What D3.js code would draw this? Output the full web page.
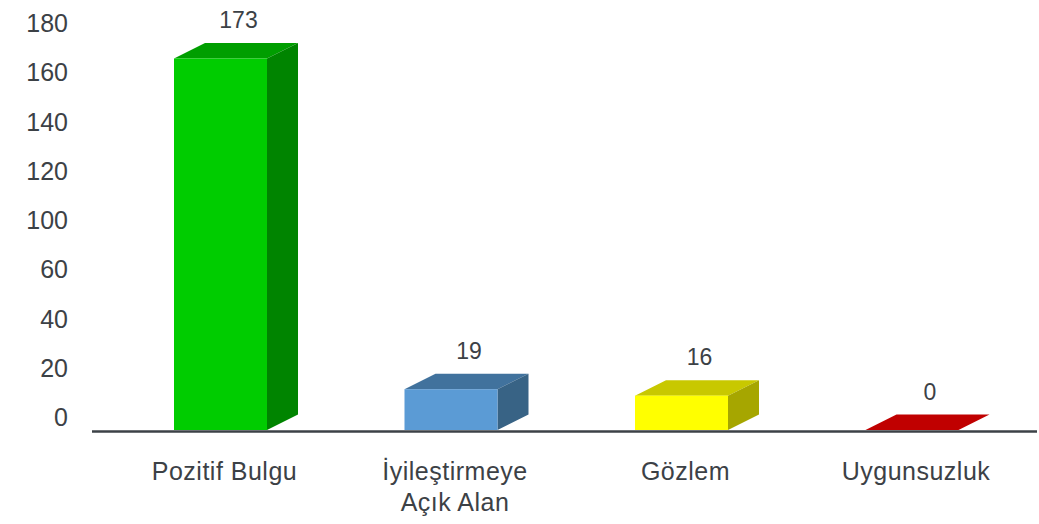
<!DOCTYPE html>
<html lang="tr">
<head>
<meta charset="UTF-8">
<title>Bulgular</title>
<script src="https://cdn.jsdelivr.net/npm/d3@7"></script>
<style>
    body { margin: 0; background: #fff; }
    svg { display: block; font-family: "Liberation Sans", Arial, sans-serif; }
    .tick-label { fill: #3c4146; font-size: 25px; }
    .cat-label { fill: #3c4146; font-size: 25px; letter-spacing: 0.5px; }
    .val-label { fill: #3c4146; font-size: 23px; }
</style>
</head>
<body>
<svg id="chart" width="1039" height="524"></svg>
<script>
// data
const categories = ["Pozitif Bulgu", "İyileştirmeye\nAçık Alan", "Gözlem", "Uygunsuzluk"];
const values = [173, 19, 16, 0];
// the original axis skips 80, labels are evenly spaced
const tickLabels = ["0", "20", "40", "60", "100", "120", "140", "160", "180"];
const frontColors = ["#00cc00", "#5b9bd5", "#ffff00", "#c00000"];
const topColors = ["#009e00", "#41729d", "#c8c800", "#c00000"];
const sideColors = ["#008400", "#386385", "#a6a600", "#9a0000"];

const svg = d3.select("#chart");
const baseY = 430;
const depthX = 31, depthY = 15.5;

const x = d3.scaleBand()
    .domain(categories)
    .range([174, 958.5])
    .paddingInner(0.5965)
    .paddingOuter(0);

const y = d3.scaleLinear()
    .domain([0, 173])
    .range([baseY, 58.5]);

const yLab = d3.scalePoint()
    .domain(tickLabels)
    .range([426, 32]);

// y labels
svg.append("g")
    .selectAll("text")
    .data(tickLabels)
    .join("text")
    .attr("class", "tick-label")
    .attr("x", 68)
    .attr("y", d => yLab(d))
    .attr("text-anchor", "end")
    .text(d => d);

// bars
const bars = svg.append("g")
    .selectAll("g")
    .data(categories.map((c, i) => ({ c, v: values[i], i })))
    .join("g");

bars.append("path")
    .attr("fill", d => topColors[d.i])
    .attr("d", d => {
        const x0 = x(d.c), x1 = x0 + x.bandwidth(), t = y(d.v);
        return `M${x0},${t}L${x0 + depthX},${t - depthY}L${x1 + depthX},${t - depthY}L${x1},${t}Z`;
    });

bars.filter(d => d.v > 0).append("path")
    .attr("fill", d => sideColors[d.i])
    .attr("d", d => {
        const x1 = x(d.c) + x.bandwidth(), t = y(d.v);
        return `M${x1},${t}L${x1 + depthX},${t - depthY}L${x1 + depthX},${baseY - depthY}L${x1},${baseY}Z`;
    });

bars.filter(d => d.v > 0).append("rect")
    .attr("fill", d => frontColors[d.i])
    .attr("x", d => x(d.c))
    .attr("y", d => y(d.v))
    .attr("width", x.bandwidth())
    .attr("height", d => baseY - y(d.v));

// value labels
bars.append("text")
    .attr("class", "val-label")
    .attr("x", d => x(d.c) + x.bandwidth() / 2 + 18)
    .attr("y", d => y(d.v) - depthY - 15)
    .attr("text-anchor", "middle")
    .text(d => d.v);

// baseline
svg.append("line")
    .attr("x1", 92).attr("x2", 1037)
    .attr("y1", 431.5).attr("y2", 431.5)
    .attr("stroke", "#3c4247")
    .attr("stroke-width", 2.5);

// category labels
const cats = svg.append("g")
    .selectAll("text")
    .data(categories)
    .join("text")
    .attr("class", "cat-label")
    .attr("text-anchor", "middle")
    .attr("x", d => x(d) + x.bandwidth() / 2)
    .attr("y", 480);

cats.selectAll("tspan")
    .data(d => d.split("\n").map(s => ({ s, x: x(d) + x.bandwidth() / 2 + 4 })))
    .join("tspan")
    .attr("x", t => t.x)
    .attr("dy", (t, i) => i ? 31 : 0)
    .text(t => t.s);
</script>
</body>
</html>
